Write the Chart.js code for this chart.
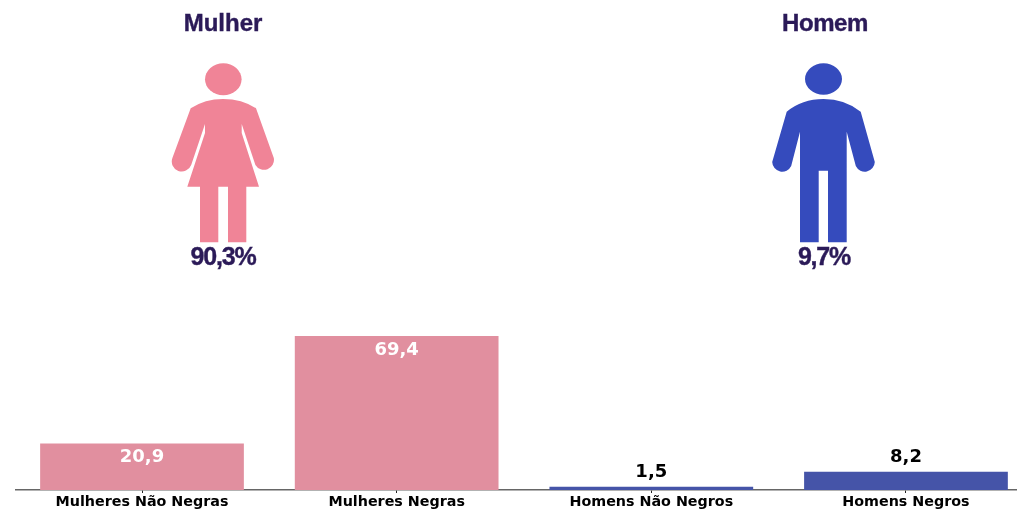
<!DOCTYPE html>
<html>
<head>
<meta charset="utf-8">
<script src="https://cdn.jsdelivr.net/npm/chart.js@4"></script>
<style>
    html, body { margin: 0; padding: 0; background: #fff; overflow: hidden; }
    #wrap { position: relative; width: 1017px; height: 509px; }
    #barChart { position: absolute; left: 0; top: 0; }
    #icons { position: absolute; left: 0; top: 0; }
    .big { position: absolute; font-family: "Liberation Sans", sans-serif; font-weight: bold; color: #2b1a58; text-align: center; width: 200px; -webkit-text-stroke: 0.4px #2b1a58; }
</style>
</head>
<body>
<div id="wrap">
    <canvas id="barChart" width="1017" height="509"></canvas>
    <svg id="icons" width="1017" height="509" viewBox="0 0 1017 509">
        <!-- Mulher -->
        <g fill="#f08497">
            <ellipse cx="223.3" cy="79.3" rx="18.3" ry="16"/>
            <path d="M190.7 108.3 Q205 99 223 99 Q242 99 256 108.3 L273.8 158 A10 10 0 0 1 255.4 165 L241.7 124 L241.7 133 L259 186.7 L246.3 186.7 L246.3 242.3 L228 242.3 L228 186.7 L218.3 186.7 L218.3 242.3 L200 242.3 L200 186.7 L187.3 186.7 L205 133 L205 124 L191.2 165 A10 10 0 0 1 172.4 158 Z"/>
        </g>
        <!-- Homem -->
        <g fill="#354bbd">
            <ellipse cx="823.5" cy="79" rx="18.5" ry="15.7"/>
            <path d="M786.7 111.7 Q802 99 823.5 99 Q845 99 860.7 111.7 L874.8 162 A10 10 0 0 1 855.8 166 L846.7 131.7 L846.7 242.3 L828 242.3 L828 170.7 L818.7 170.7 L818.7 242.3 L800 242.3 L800 131.7 L791.2 166 A10 10 0 0 1 772.2 162 Z"/>
        </g>
    </svg>
    <div class="big" style="left:123px; top:9px; font-size:24px; letter-spacing:0;">Mulher</div>
    <div class="big" style="left:725px; top:9px; font-size:24px; letter-spacing:-0.4px;">Homem</div>
    <div class="big" style="left:123px; top:242px; font-size:25px; letter-spacing:-1.2px;">90,3%</div>
    <div class="big" style="left:724px; top:242px; font-size:25px; letter-spacing:-1.2px;">9,7%</div>
</div>

<script>
const categories = ['Mulheres Não Negras', 'Mulheres Negras', 'Homens Não Negros', 'Homens Negros'];
const values = [20.9, 69.4, 1.5, 8.2];
const barColors = ['#e18f9f', '#e18f9f', '#4554a8', '#4554a8'];

// value labels: tall bars get white text inside, short ones black text on top
const valueLabels = {
    id: 'valueLabels',
    afterDatasetsDraw(chart) {
        const c = chart.ctx;
        c.save();
        c.font = 'bold 18px "DejaVu Sans"';
        c.textAlign = 'center';
        c.textBaseline = 'middle';
        chart.getDatasetMeta(0).data.forEach((bar, i) => {
            const inside = values[i] > 10;
            c.fillStyle = inside ? '#fff' : '#000';
            c.fillText(String(values[i]).replace('.', ','), bar.x, inside ? bar.y + 14 : bar.y - 14);
        });
        c.restore();
    }
};

new Chart(document.getElementById('barChart'), {
    type: 'bar',
    data: {
        datasets: [{
            data: values.map((v, i) => ({ x: i, y: v })),
            backgroundColor: barColors,
            barPercentage: 0.8,
            categoryPercentage: 1
        }]
    },
    options: {
        responsive: false,
        animation: false,
        events: [],
        layout: { padding: { left: 16, right: 0, top: 0, bottom: 0 } },
        plugins: { legend: { display: false }, tooltip: { enabled: false } },
        scales: {
            x: {
                type: 'linear',
                offset: false,
                min: -0.4948,
                max: 3.436,
                afterBuildTicks(axis) {
                    axis.ticks = categories.map((_, i) => ({ value: i }));
                },
                afterFit(axis) {
                    axis.height = 19;
                },
                border: { color: '#666', width: 1.5 },
                grid: { offset: false, drawOnChartArea: false, tickLength: 3, tickColor: '#222', tickWidth: 1 },
                ticks: {
                    autoSkip: false,
                    maxRotation: 0,
                    padding: 1,
                    color: '#000',
                    font: { family: '"DejaVu Sans"', weight: 'bold', size: 14.3 },
                    callback: (value) => categories[value]
                }
            },
            y: { display: false, min: 0, max: 220.8 }
        }
    },
    plugins: [valueLabels]
});
</script>
</body>
</html>
